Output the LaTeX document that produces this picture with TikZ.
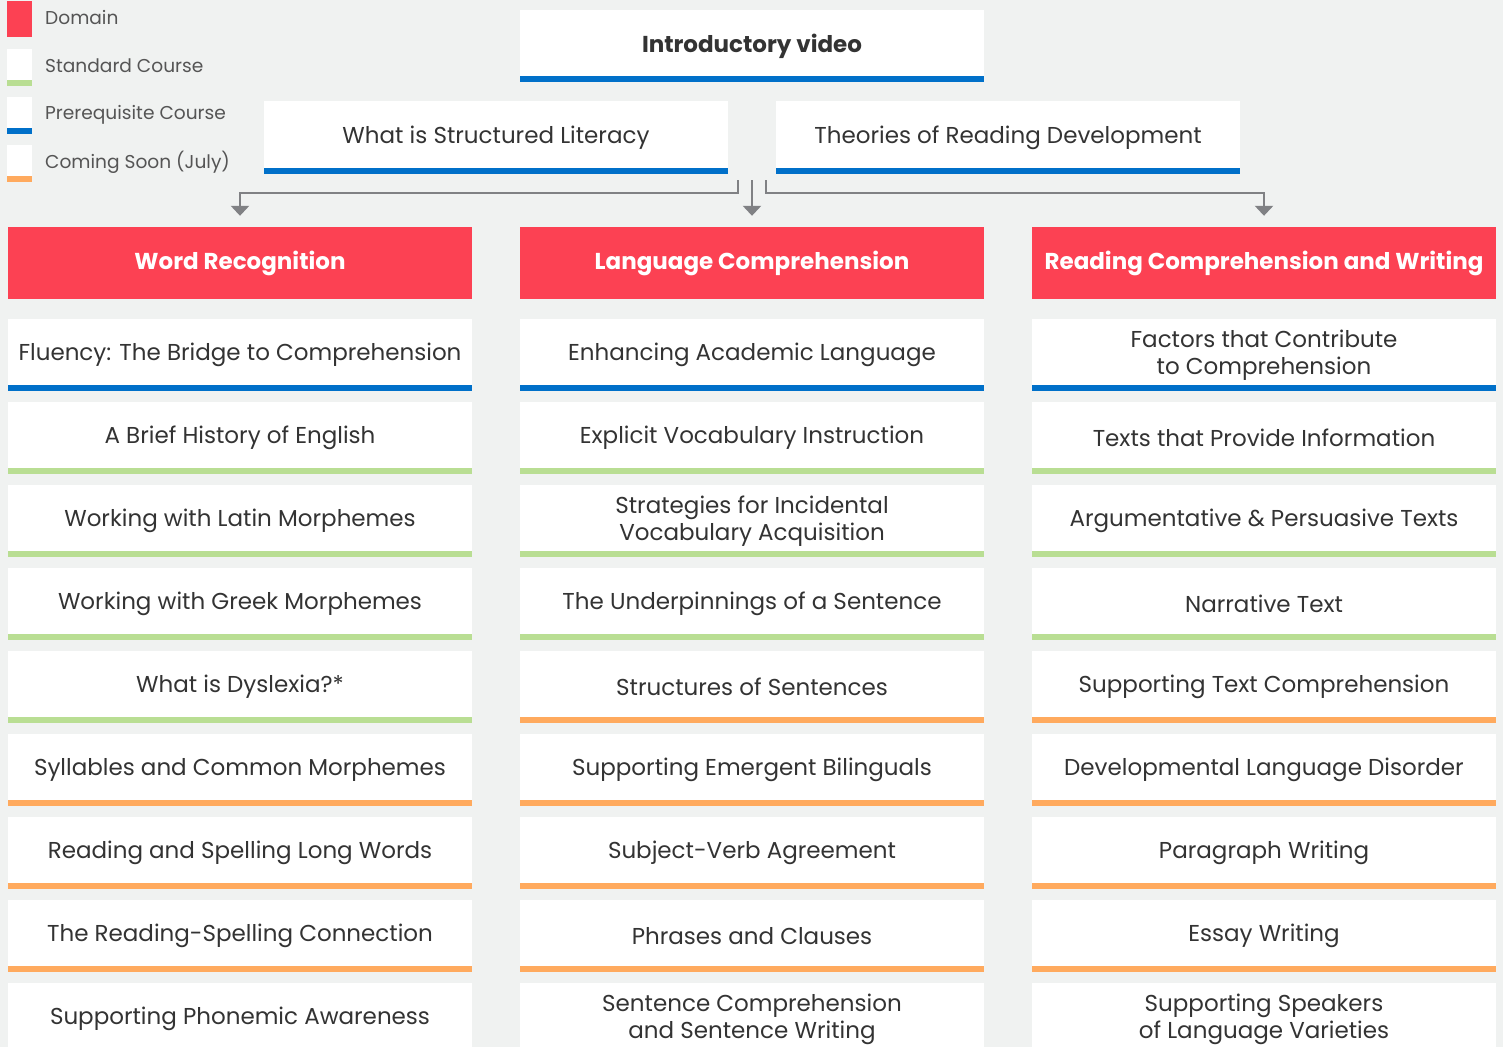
\documentclass[tikz,border=0pt]{standalone}
\usepackage{fontspec}
\setmainfont{Poppins}
\usepackage{xcolor}
\usepackage{tikz}
\usetikzlibrary{arrows.meta}

\definecolor{domred}{HTML}{FC4153}
\definecolor{prereqblue}{HTML}{0070C9}
\definecolor{stdgreen}{HTML}{B9DE93}
\definecolor{soonorange}{HTML}{FFAA5E}
\definecolor{bggray}{HTML}{F0F2F1}
\definecolor{linkgray}{HTML}{808184}
\definecolor{txtgray}{HTML}{333333}
\definecolor{keygray}{HTML}{555555}

\newcommand{\coursefont}{\fontsize{23}{27}\selectfont}
\newcommand{\domainfont}{\fontsize{23}{27}\selectfont\bfseries}
\newcommand{\keyfont}{\fontsize{18.6}{22}\selectfont}

\tikzset{
    box/.style = {align=center, inner sep=0pt, text centered, minimum width=464pt, minimum height=72pt, text=txtgray},
    course/.style = {box, fill=white, font=\coursefont,
        path picture={\fill[#1] ([yshift=6pt]path picture bounding box.south west) rectangle (path picture bounding box.south east);}},
    domainbox/.style = {box, fill=domred, text=white, font=\domainfont},
    keybox/.style = {course=#1, minimum width=25pt, minimum height=37pt},
    keytext/.style = {anchor=west, inner sep=0pt, text=keygray, font=\keyfont},
    link/.style = {draw=linkgray, line width=2.5pt, -{Triangle[width=18pt,length=10pt]}, shorten >=11pt}
}

\begin{document}
\begin{tikzpicture}[x=1pt, y=-1pt]
    \fill[bggray] (0,0) rectangle (1503,1047);
    \useasboundingbox (0,0) rectangle (1503,1047);
    \clip (0,0) rectangle (1503,1047);

    % legend
    \node (kdom) [box, fill=domred, minimum width=25pt, minimum height=36pt] at (19.5,19) {};
    \node (kstd) [keybox=stdgreen] at (19.5,67.5) {};
    \node (kpre) [keybox=prereqblue] at (19.5,115.5) {};
    \node (ksoon) [keybox=soonorange] at (19.5,163.5) {};
    \node [keytext] at (45,17.5) {Domain};
    \node [keytext] at (45,65.5) {Standard Course};
    \node [keytext] at (45,114.5) {Prerequisite Course};
    \node [keytext] at (45,162.5) {Coming Soon (July)};

    % prerequisites
    \node (intro) [course=prereqblue, font=\domainfont] at (752,46) {Introductory video};
    \node (sl) [course=prereqblue, minimum height=73pt] at (496,137.5) {What is Structured Literacy};
    \node (trd) [course=prereqblue, minimum height=73pt] at (1008,137.5) {Theories of Reading Development};

    % domains
    \node (wr) [domainbox] at (240,263) {Word Recognition};
    \node (lc) [domainbox] at (752,263) {Language Comprehension};
    \node (rc) [domainbox] at (1264,263) {Reading Comprehension and Writing};

    \coordinate (jl) at (738,180);
    \coordinate (jm) at (752,180);
    \coordinate (jr) at (766,180);
    \draw[link] (jl) -- ++(0,13) -| (wr.north);
    \draw[link] (jm) -- (lc.north);
    \draw[link] (jr) -- ++(0,13) -| (rc.north);

    % courses
    \foreach \t/\c [count=\i] in {
        {Fluency: The Bridge to Comprehension}/prereqblue,
        {A Brief History of English}/stdgreen,
        {Working with Latin Morphemes}/stdgreen,
        {Working with Greek Morphemes}/stdgreen,
        {What is Dyslexia?*}/stdgreen,
        {Syllables and Common Morphemes}/soonorange,
        {Reading and Spelling Long Words}/soonorange,
        {The Reading-Spelling Connection}/soonorange,
        {Supporting Phonemic Awareness}/soonorange}
        \node (wr\i) [course=\c] at (240,272+83*\i) {\t};

    \foreach \t/\c [count=\i] in {
        {Enhancing Academic Language}/prereqblue,
        {Explicit Vocabulary Instruction}/stdgreen,
        {Strategies for Incidental\\Vocabulary Acquisition}/stdgreen,
        {The Underpinnings of a Sentence}/stdgreen,
        {Structures of Sentences}/soonorange,
        {Supporting Emergent Bilinguals}/soonorange,
        {Subject-Verb Agreement}/soonorange,
        {Phrases and Clauses}/soonorange,
        {Sentence Comprehension\\and Sentence Writing}/soonorange}
        \node (lc\i) [course=\c] at (752,272+83*\i) {\t};

    \foreach \t/\c [count=\i] in {
        {Factors that Contribute\\to Comprehension}/prereqblue,
        {Texts that Provide Information}/stdgreen,
        {Argumentative \& Persuasive Texts}/stdgreen,
        {Narrative Text}/stdgreen,
        {Supporting Text Comprehension}/soonorange,
        {Developmental Language Disorder}/soonorange,
        {Paragraph Writing}/soonorange,
        {Essay Writing}/soonorange,
        {Supporting Speakers\\of Language Varieties}/soonorange}
        \node (rc\i) [course=\c] at (1264,272+83*\i) {\t};
\end{tikzpicture}
\end{document}
